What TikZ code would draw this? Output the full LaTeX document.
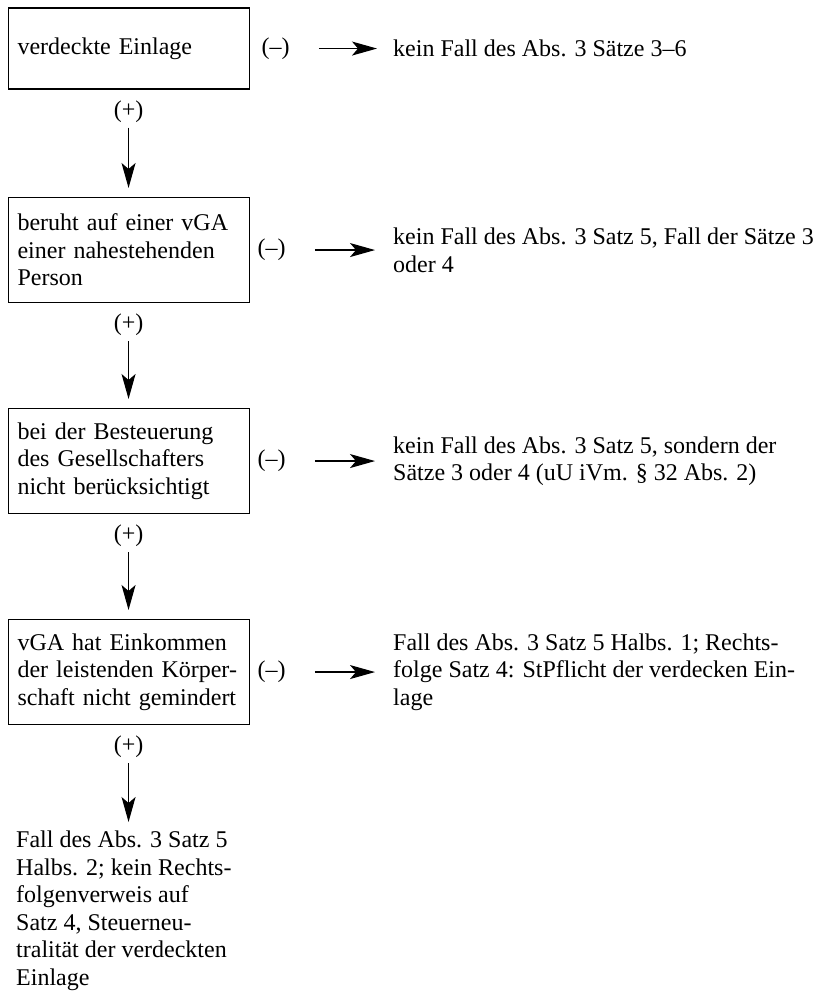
\documentclass[tikz,border=0pt]{standalone}
\usepackage{fontspec}
\setmainfont{Liberation Serif}
\usetikzlibrary{arrows.meta,calc}
\begin{document}
\begin{tikzpicture}[x=1pt,y=-1pt,
  every node/.style={font=\fontsize{24}{27.5}\selectfont, inner sep=0pt},
  box/.style={draw, line width=1.1pt, text width=222pt, inner xsep=9.5pt, inner ysep=0pt, minimum height=105pt, align=left, anchor=north west},
  res/.style={anchor=west, align=left},
  arr/.style={line width=1.2pt, -{Stealth[length=25pt,width=14pt,inset=6pt]}}
]
\useasboundingbox (0,0) rectangle (820,992);
\coordinate (rx) at (393,0);
% boxes
\node[box, minimum height=81pt] (b1) at (7.5,7.5) {verdeckte Einlage};
\node[box] (b2) at (7.5,197) {beruht auf einer vGA\\einer nahestehenden\\Person};
\node[box] (b3) at (7.5,408) {bei der Besteuerung\\des Gesellschafters\\nicht berücksichtigt};
\node[box] (b4) at (7.5,619) {vGA hat Einkommen\\der leistenden Körper-\\schaft nicht gemindert};
% minus labels
\node (m1) at ([xshift=26pt]b1.east) {(–)};
\node (m2) at ([xshift=22pt]b2.east) {(–)};
\node (m3) at ([xshift=22pt]b3.east) {(–)};
\node (m4) at ([xshift=22pt]b4.east) {(–)};
% results
\node[res] (r1) at (m1 -| rx) {kein Fall des Abs. 3 Sätze 3–6};
\node[res] (r2) at (m2 -| rx) {kein Fall des Abs. 3 Satz 5, Fall der Sätze 3\\oder 4};
\node[res] (r3) at (m3 -| rx) {kein Fall des Abs. 3 Satz 5, sondern der\\Sätze 3 oder 4 (uU iVm. § 32 Abs. 2)};
\node[res] (r4) at (m4 -| rx) {Fall des Abs. 3 Satz 5 Halbs. 1; Rechts-\\folge Satz 4: StPflicht der verdecken Ein-\\lage};
% horizontal arrows
\draw[arr, shorten <=29pt, shorten >=16pt] (m1.east) -- (m1.east -| r1.west);
\draw[arr, shorten <=29pt, shorten >=18pt] (m2.east) -- (m2.east -| r2.west);
\draw[arr, shorten <=29pt, shorten >=18pt] (m3.east) -- (m3.east -| r3.west);
\draw[arr, shorten <=29pt, shorten >=18pt] (m4.east) -- (m4.east -| r4.west);
% plus labels
\node (p1) at ([yshift=-22pt]b1.south) {(+)};
\node (p2) at ([yshift=-22pt]b2.south) {(+)};
\node (p3) at ([yshift=-22pt]b3.south) {(+)};
\node (p4) at ([yshift=-22pt]b4.south) {(+)};
% final text
\node[anchor=north west, align=left] (f) at (16,831) {Fall des Abs. 3 Satz 5\\Halbs. 2; kein Rechts-\\folgenverweis auf\\Satz 4, Steuerneu-\\tralität der verdeckten\\Einlage};
% vertical arrows
\draw[arr, shorten <=5pt, shorten >=9pt] (p1.south) -- (b2.north);
\draw[arr, shorten <=5pt, shorten >=9pt] (p2.south) -- (b3.north);
\draw[arr, shorten <=5pt, shorten >=9pt] (p3.south) -- (b4.north);
\draw[arr, shorten <=5pt, shorten >=9pt] (p4.south) -- (p4.south |- f.north);
\end{tikzpicture}
\end{document}
